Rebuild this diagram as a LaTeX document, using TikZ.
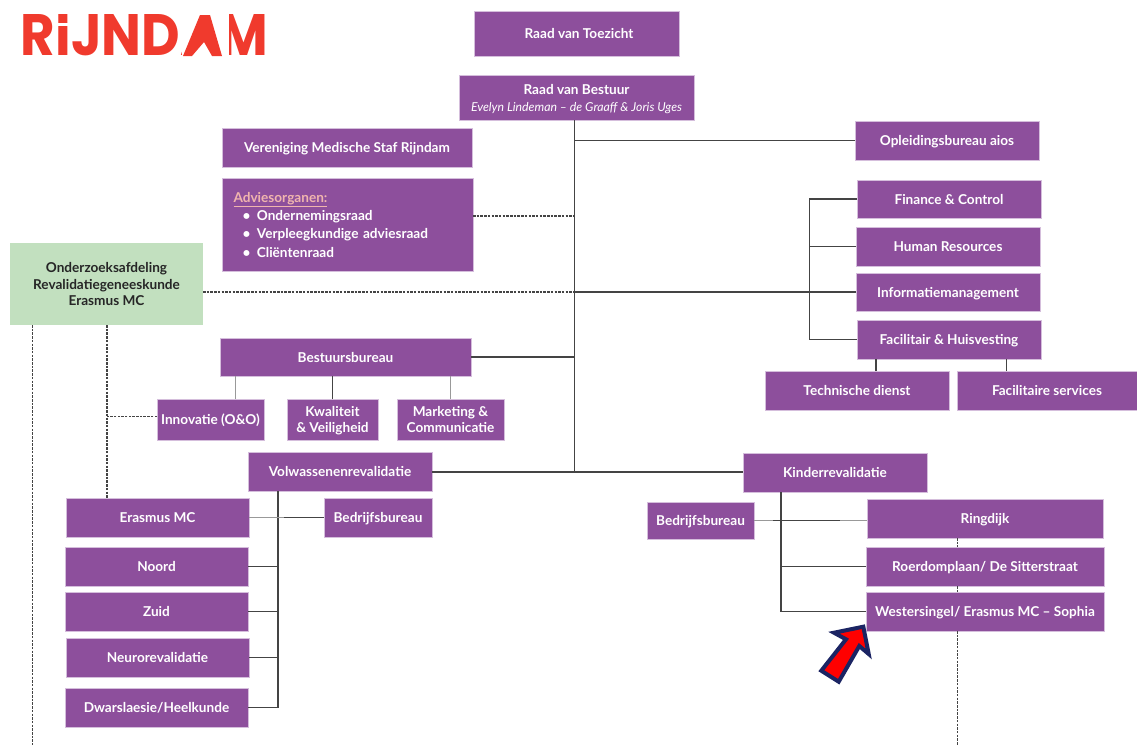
\documentclass[tikz,border=0pt]{standalone}
\usepackage{fontspec}
\setmainfont{Lato}
\newfontfamily\logofont{Poppins}
\usetikzlibrary{calc}
\definecolor{boxpurple}{HTML}{8D4F9C}
\definecolor{boxedge}{HTML}{D5BEDC}
\definecolor{boxgreen}{HTML}{C2E0BF}
\definecolor{linedark}{HTML}{444444}
\definecolor{linegray}{HTML}{999999}
\definecolor{logored}{HTML}{F03A2D}
\definecolor{advpink}{HTML}{F0B5AE}
\definecolor{arrownavy}{HTML}{1B2463}
\tikzset{
  orgbox/.style={draw=boxedge,line width=0.4pt,fill=boxpurple,text=white,font=\bfseries\fontsize{13.6}{16.4}\selectfont,align=center,inner sep=0pt,outer sep=0pt},
  greenbox/.style={orgbox,draw=none,fill=boxgreen,text=black!85},
  solidline/.style={draw=linedark,line width=1.3pt},
  grayline/.style={draw=linegray,line width=1.3pt},
  dashline/.style={draw=linedark,line width=1.1pt,dash pattern=on 2.5pt off 1.2pt},
}
\newcommand{\pbox}[7][]{%
  \pgfmathsetmacro{\pbw}{#5-#3}\pgfmathsetmacro{\pbh}{#6-#4}%
  \pgfmathsetmacro{\pbx}{(#5+#3)/2}\pgfmathsetmacro{\pby}{(#6+#4)/2}%
  \node[orgbox,minimum width=\pbw pt,minimum height=\pbh pt,#1] (#2) at (\pbx,\pby) {\rule{0pt}{13.5pt}#7\rule[-3pt]{0pt}{3pt}};}
\begin{document}
\begin{tikzpicture}[x=1pt,y=-1pt]
\useasboundingbox (0,0) rectangle (1137,745);
\coordinate (spine) at (574.5,472);
\coordinate (finbr) at (809.5,339.5);
\coordinate (dashA) at (32.5,745);
\coordinate (dashB) at (107,498);
\coordinate (dashC) at (957.7,745);
\coordinate (volbr) at (278,707.5);
\coordinate (kinbr) at (781,611.5);
\coordinate (fac1) at (876,371);
\coordinate (fac2) at (1006.5,371);
\coordinate (advlevel) at (473,216);
\coordinate (innlevel) at (157,416.7);
\coordinate (innup) at (235.5,399);
\coordinate (eraend) at (284,518);

% logo
\node[inner sep=0pt,text=logored,anchor=center] (logo) at (144.5,35.5) {\resizebox{247pt}{41pt}{\logofont\bfseries RIJNDAM}};
% logo details: dot of the i, notched A
\fill[white] (58,22.5) rectangle (74,26);
\fill[white] (182,13) rectangle (229,58);
\fill[logored] (200,15) -- (210,15) -- (222,56) -- (212,56) -- (204,42) -- (192,56) -- (183,56) -- cycle;

% boxes
\pbox{rvt}{474}{11}{679}{56}{\hspace*{5pt}Raad van Toezicht}
\pbox{rvb}{459}{75}{694}{120}{Raad van Bestuur\\[0.5pt]{\mdseries\itshape\fontsize{12.3}{14}\selectfont Evelyn Lindeman -- de Graaff \& Joris Uges}}
\pbox{vms}{222}{128}{472}{167}{Vereniging Medische Staf Rijndam}
\pbox[align=left,text width=228pt,font=\bfseries\fontsize{13.6}{18.2}\selectfont]{adv}{222}{178}{473}{271}{{\color{advpink}\underline{Adviesorganen:}}\\
\hspace*{9pt}\textbullet\hspace{6.5pt}Ondernemingsraad\\
\hspace*{9pt}\textbullet\hspace{6.5pt}Verpleegkundige adviesraad\\
\hspace*{9pt}\textbullet\hspace{6.5pt}Cliëntenraad}
\pbox[greenbox]{ond}{10}{243}{203}{325}{Onderzoeksafdeling\\Revalidatiegeneeskunde\\Erasmus MC}
\pbox{bes}{220}{338}{471}{376}{Bestuursbureau}
\pbox{inn}{157}{399}{264}{440}{Innovatie (O\&O)}
\pbox{kwa}{287}{399}{378}{440}{Kwaliteit\\\& Veiligheid}
\pbox{mar}{397}{399}{504}{440}{Marketing \&\\Communicatie}
\pbox{vol}{248}{452}{432}{491}{Volwassenenrevalidatie}
\pbox{era}{66}{498}{249}{537}{Erasmus MC}
\pbox{bbl}{324}{498}{432}{537}{Bedrijfsbureau}
\pbox{noo}{65}{547}{248}{586}{Noord}
\pbox{zui}{65}{592}{248}{631}{Zuid}
\pbox{neu}{66}{638}{249}{677}{Neurorevalidatie}
\pbox{dwa}{65}{688}{248}{727}{Dwarslaesie/Heelkunde}
\pbox{kin}{743}{453}{927}{492}{Kinderrevalidatie}
\pbox{bbr}{647}{502}{754}{539}{Bedrijfsbureau}
\pbox{rin}{867}{499}{1103}{538}{Ringdijk}
\pbox{roe}{866}{547}{1104}{586}{Roerdomplaan/ De Sitterstraat}
\pbox{wes}{866}{592}{1104}{631}{Westersingel/ Erasmus MC -- Sophia}
\pbox{opl}{855}{121}{1039}{160}{Opleidingsbureau aios}
\pbox{fin}{857}{180}{1041}{218}{Finance \& Control}
\pbox{hum}{856}{227}{1040}{266}{Human Resources}
\pbox{inf}{856}{273}{1040}{311}{Informatiemanagement}
\pbox{fac}{857}{320}{1041}{359}{Facilitair \& Huisvesting}
\pbox{tec}{765}{371}{949}{410}{Technische dienst}
\pbox{fas}{957}{371}{1137}{410}{Facilitaire services}

% solid connectors
\draw[solidline] (rvb.south -| spine) -- (spine);
\draw[solidline] (opl.west) -- (opl.west -| spine);
\draw[solidline] (bes.east) -- (bes.east -| spine);
\draw[solidline] (spine -| vol.east) -- (spine -| kin.west);
\draw[solidline] (inf.west) -- (inf.west -| spine);
\draw[solidline] (fin.west) -| (finbr) -- (fac.west);
\draw[solidline] (hum.west) -- (hum.west -| finbr);
\draw[grayline] (innup) -- (innup |- bes.south);
\draw[solidline] (kwa.north) -- (kwa.north |- bes.south);
\draw[grayline] (mar.north) -- (mar.north |- bes.south);
\draw[solidline] (fac1) -- (fac1 |- fac.south);
\draw[solidline] (fac2) -- (fac2 |- fac.south);
\draw[solidline] (vol.south -| volbr) -- (volbr) -- (dwa.east);
\draw[grayline] (era.east) -- (bbl.west);
\draw[solidline] (bbl.west) -- (bbl.west -| eraend);
\draw[solidline] (noo.east) -- (noo.east -| volbr);
\draw[solidline] (zui.east) -- (zui.east -| volbr);
\draw[solidline] (neu.east) -- (neu.east -| volbr);
\draw[solidline] (kin.south -| kinbr) -- (kinbr) -- (wes.west);
\draw[grayline] (bbr.east) -- (bbr.east -| rin.west);
\draw[solidline] ([xshift=-8pt]bbr.east -| kinbr) -- ([xshift=59pt]bbr.east -| kinbr);
\draw[solidline] (roe.west) -- (roe.west -| kinbr);

% dashed connectors
\draw[dashline] (advlevel) -- (advlevel -| spine);
\draw[dashline] (inf.west -| ond.east) -- (inf.west -| spine);
\draw[dashline] (ond.south -| dashB) -- (dashB);
\draw[dashline] (ond.south -| dashA) -- (dashA);
\draw[dashline] (innlevel) -- (innlevel -| dashB);
\draw[dashline] (rin.south -| dashC) -- (roe.north -| dashC);
\draw[dashline] (roe.south -| dashC) -- (wes.north -| dashC);
\draw[dashline] (wes.south -| dashC) -- (dashC);

% red arrow
\draw[arrownavy,line width=4pt,fill=red,miter limit=6] (863.3,626.7) -- (834,632.7) -- (846,639.3) -- (821.3,670.7) -- (838.7,681.7) -- (859.3,646) -- (868.7,654) -- cycle;
\end{tikzpicture}
\end{document}
